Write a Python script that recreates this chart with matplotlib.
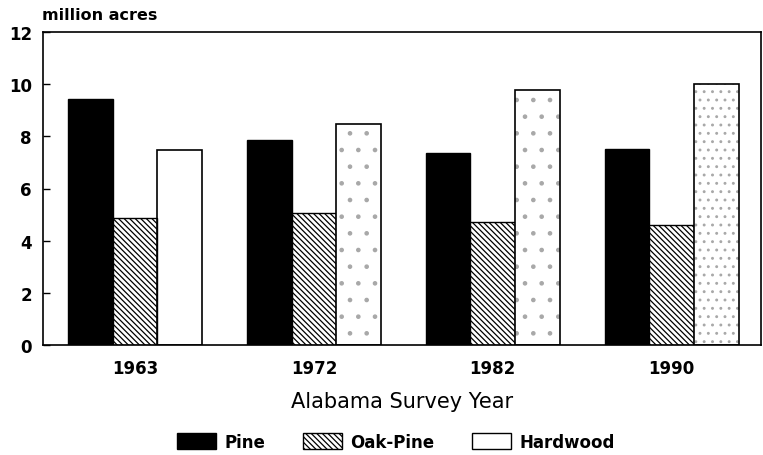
import matplotlib
matplotlib.use("Agg")
import matplotlib.pyplot as plt
import numpy as np
from matplotlib.patches import Patch

years = ["1963", "1972", "1982", "1990"]
pine = [9.45, 7.85, 7.38, 7.5]
oak_pine = [4.87, 5.05, 4.7, 4.6]
hardwood = [7.48, 8.47, 9.77, 10.0]
yticks = [0, 2, 4, 6, 8, 10, 12]

# style for stippling of hardwood bars (visual only)
hw_stipple = ["", ".", ".", ".."]

plt.rcParams["hatch.linewidth"] = 0.9
plt.rcParams["font.family"] = ["DejaVu Sans"]

fig = plt.figure(figsize=(7.63, 4.56), dpi=100)
ax = fig.add_axes([43 / 763, 110 / 456, 718 / 763, 313 / 456])

x = np.arange(len(years))
w = 0.25
oak_hatch = "\\" * 6

ax.bar(x - w, pine, w, color="black", edgecolor="black", linewidth=1.0)
ax.bar(x, oak_pine, w, color="white", edgecolor="black", hatch=oak_hatch, linewidth=1.0)
for i in range(len(years)):
    if hw_stipple[i]:
        ax.bar(x[i] + w, hardwood[i], w, color="white", edgecolor="#a8a8a8",
               hatch=hw_stipple[i], linewidth=0)
ax.bar(x + w, hardwood, w, fill=False, edgecolor="black", linewidth=1.2)

ax.set_xlim(-0.515, 3.5)
ax.set_ylim(0, 12)
ax.set_yticks(yticks)
ax.set_yticklabels([str(v) for v in yticks], fontsize=12, fontweight="bold")
ax.set_xticks(x)
ax.set_xticklabels(years, fontsize=12, fontweight="bold")
ax.tick_params(axis="y", direction="in", length=5, width=1, pad=8)
ax.tick_params(axis="x", length=0, pad=10)
for s in ax.spines.values():
    s.set_linewidth(1.2)

ax.set_xlabel("Alabama Survey Year", fontsize=15, labelpad=10)
fig.text(42 / 763, 1 - 15 / 456, "million acres", fontsize=11.5, fontweight="bold",
         ha="left", va="center")

handles = [
    Patch(facecolor="black", edgecolor="black", label="Pine"),
    Patch(facecolor="white", edgecolor="black", hatch=oak_hatch, label="Oak-Pine"),
    Patch(facecolor="white", edgecolor="black", label="Hardwood"),
]
fig.legend(handles=handles, loc="center", bbox_to_anchor=(396 / 763, 1 - 443 / 456),
           ncol=3, frameon=False, handlelength=2.3, handleheight=1.1,
           handletextpad=0.5, columnspacing=2.3,
           prop={"size": 12, "weight": "bold"})

fig.savefig("out.png", dpi=100)
